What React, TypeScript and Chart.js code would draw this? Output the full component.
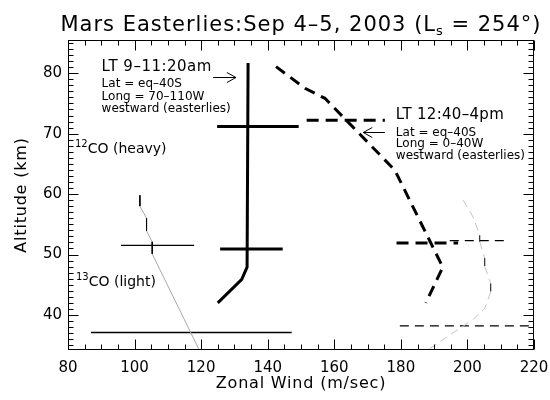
import React, { useEffect, useRef } from "react";
import { Chart, registerables } from "chart.js";
Chart.register(...registerables);

const FONT = "'DejaVu Sans', sans-serif";

// Axes
const xTicks = [80, 100, 120, 140, 160, 180, 200, 220];
const yTicks = [40, 50, 60, 70, 80];
const xMin = 80;
const xMax = 220;
const yMin = 34.2;
const yMax = 85.5;

// 12CO (heavy), LT 9-11:20am — thick solid profile
const heavyAmWind = [125, 132.2, 133.8, 134.1];
const heavyAmAlt = [42.0, 45.9, 47.9, 81.7];
const heavyAmBarAlt = [71.2, 50.9];
const heavyAmBarLo = [124.8, 125.7];
const heavyAmBarHi = [149.3, 144.5];

// 13CO (light), LT 9-11:20am — thin profile
const lightAmWind = [101.6, 101.6, 103.6, 103.6, 105.3, 105.3, 120.5];
const lightAmAlt = [59.8, 58.0, 56.0, 53.9, 52.1, 50.1, 33.0];
const lightAmBarAlt = [51.5, 37.1];
const lightAmBarLo = [95.9, 86.9];
const lightAmBarHi = [117.9, 147.2];

// 12CO (heavy), LT 12:40-4pm — thick dashed profile
const heavyPmWind = [142.5, 151.2, 157.2, 178.2, 192.6, 187.5];
const heavyPmAlt = [81.1, 77.5, 75.85, 63.95, 47.9, 42.0];
const heavyPmBarAlt = [72.2, 51.9];
const heavyPmBarLo = [151.7, 178.7];
const heavyPmBarHi = [175.2, 197.2];

// 13CO (light), LT 12:40-4pm — thin grey dashed profile
const lightPmWind = [198.7, 201.7, 203.7, 203.7, 205.2, 205.2, 207.0, 207.0, 205.2, 201.6, 193.8, 188.1, 185.7];
const lightPmAlt = [59.0, 56.2, 53.2, 52.1, 49.4, 48.0, 45.2, 43.8, 41.1, 39.2, 36.35, 34.2, 33.5];
const lightPmBarAlt = [52.3, 38.2];
const lightPmBarLo = [194.7, 179.7];
const lightPmBarHi = [212.2, 220];

// Annotations (data units)
const noteTexts = ["LT 9–11:20am", "Lat = eq–40S", "Long = 70–110W", "westward (easterlies)", "LT 12:40–4pm", "Lat = eq–40S", "Long = 0–40W", "westward (easterlies)"];
const noteX = [90.1, 90.1, 90.1, 90.1, 178.5, 178.5, 178.5, 178.5];
const noteY = [80.3, 77.67, 75.6, 73.6, 72.4, 69.65, 67.75, 65.8];
const noteSize = [15, 12, 12, 12, 15, 12, 12, 12];
const noteSpacing = [0.5, 0, 0, 0, 0.3, 0, 0, 0];

const isoLabels = ["12", "13"];
const isoNames = ["CO (heavy)", "CO (light)"];
const isoX = [82.1, 82.4];
const isoY = [66.8, 44.8];

const arrowTailX = [123.6, 175.2];
const arrowTipX = [130.45, 168.7];
const arrowY = [79.3, 70.3];

const pts = (xs: number[], ys: number[]) => xs.map((x, i) => ({ x, y: ys[i] }));

function bars(alt: number[], lo: number[], hi: number[], style: any) {
  return alt.map((a, i) => ({
    data: [{ x: lo[i], y: a }, { x: hi[i], y: a }],
    ...style,
  }));
}

const vertBlack = (grey: string) => (ctx: any) =>
  Math.abs(ctx.p0.parsed.x - ctx.p1.parsed.x) < 1e-9 ? "#000" : grey;

const framePlugin = {
  id: "idlFrame",
  afterDraw(chart: any) {
    const { ctx, chartArea: a, scales } = chart;
    const xs = scales.x;
    const ys = scales.y;
    ctx.save();
    ctx.strokeStyle = "#000";
    ctx.lineWidth = 1;
    const L = Math.round(a.left) + 0.5;
    const R = Math.round(a.right) - 0.5;
    const T = Math.round(a.top) + 0.5;
    const B = Math.round(a.bottom) - 0.5;
    ctx.strokeRect(L, T, R - L, B - T);
    const line = (x1: number, y1: number, x2: number, y2: number) => {
      ctx.beginPath();
      ctx.moveTo(x1, y1);
      ctx.lineTo(x2, y2);
      ctx.stroke();
    };
    for (let v = xMin; v <= xMax + 1e-6; v += 5) {
      const px = Math.round(xs.getPixelForValue(v)) + 0.5;
      const len = xTicks.includes(v) ? 10 : 5;
      line(px, B, px, B - len);
      line(px, T, px, T + len);
    }
    for (let v = Math.ceil(yMin); v <= yMax; v += 1) {
      const py = Math.round(ys.getPixelForValue(v)) + 0.5;
      const len = yTicks.includes(v) ? 10 : 5;
      line(L, py, L + len, py);
      line(R, py, R - len, py);
    }

    ctx.fillStyle = "#000";
    ctx.textBaseline = "alphabetic";
    ctx.textAlign = "left";
    // notes
    noteTexts.forEach((t, i) => {
      ctx.font = `${noteSize[i]}px ${FONT}`;
      ctx.letterSpacing = `${noteSpacing[i]}px`;
      ctx.fillText(t, xs.getPixelForValue(noteX[i]), ys.getPixelForValue(noteY[i]));
    });
    ctx.letterSpacing = "0px";
    // isotopes
    isoLabels.forEach((t, i) => {
      const x0 = xs.getPixelForValue(isoX[i]);
      const y0 = ys.getPixelForValue(isoY[i]);
      ctx.font = `10px ${FONT}`;
      ctx.fillText(t, x0, y0 - 6);
      const w = ctx.measureText(t).width;
      ctx.font = `14px ${FONT}`;
      ctx.fillText(isoNames[i], x0 + w, y0);
    });
    // arrows
    ctx.lineWidth = 1;
    arrowTipX.forEach((tx, i) => {
      const x1 = xs.getPixelForValue(arrowTailX[i]);
      const x2 = xs.getPixelForValue(tx);
      const y = Math.round(ys.getPixelForValue(arrowY[i])) + 0.5;
      const d = Math.sign(x2 - x1);
      line(x1, y, x2, y);
      line(x2, y, x2 - d * 9, y - 5);
      line(x2, y, x2 - d * 9, y + 5);
    });

    // title
    const cx = (a.left + a.right) / 2;
    const t1 = "Mars Easterlies:Sep 4–5, 2003 (L";
    const t2 = "s";
    const t3 = " = 254°)";
    ctx.letterSpacing = "1px";
    ctx.font = `21px ${FONT}`;
    const w1 = ctx.measureText(t1).width;
    const w3 = ctx.measureText(t3).width;
    ctx.font = `13px ${FONT}`;
    const w2 = ctx.measureText(t2).width;
    let x = cx - (w1 + w2 + w3) / 2;
    const ty = 31;
    ctx.font = `21px ${FONT}`;
    ctx.fillText(t1, x, ty);
    x += w1;
    ctx.font = `13px ${FONT}`;
    ctx.fillText(t2, x, ty + 4);
    x += w2;
    ctx.font = `21px ${FONT}`;
    ctx.fillText(t3, x, ty);

    // axis titles
    ctx.font = `16px ${FONT}`;
    ctx.letterSpacing = "0.8px";
    ctx.textAlign = "center";
    ctx.fillText("Zonal Wind (m/sec)", cx, 388);
    ctx.save();
    ctx.translate(26, (a.top + a.bottom) / 2);
    ctx.rotate(-Math.PI / 2);
    ctx.fillText("Altitude (km)", 0, 0);
    ctx.restore();
    ctx.letterSpacing = "0px";
    ctx.restore();
  },
};

export default function App() {
  const ref = useRef<HTMLCanvasElement | null>(null);
  useEffect(() => {
    document.body.style.margin = "0";
    const canvas = ref.current!;
    Chart.defaults.font.family = FONT;
    const base = { pointRadius: 0, fill: false, tension: 0, borderCapStyle: "butt" };
    const datasets: any[] = [
      { ...base, data: pts(heavyAmWind, heavyAmAlt), borderColor: "#000", borderWidth: 3 },
      ...bars(heavyAmBarAlt, heavyAmBarLo, heavyAmBarHi, { ...base, borderColor: "#000", borderWidth: 3 }),
      {
        ...base,
        data: pts(lightAmWind, lightAmAlt),
        borderColor: "#000",
        borderWidth: 1,
        segment: { borderColor: vertBlack("#a8a8a8") },
      },
      ...bars(lightAmBarAlt, lightAmBarLo, lightAmBarHi, { ...base, borderColor: "#000", borderWidth: 1.3 }),
      { ...base, data: pts(heavyPmWind, heavyPmAlt), borderColor: "#000", borderWidth: 3, borderDash: [11, 7] },
      ...bars(heavyPmBarAlt, heavyPmBarLo, heavyPmBarHi, { ...base, borderColor: "#000", borderWidth: 3, borderDash: [12, 7] }),
      {
        ...base,
        data: pts(lightPmWind, lightPmAlt),
        borderColor: "#000",
        borderWidth: 1,
        borderDash: [8, 5],
        segment: { borderColor: vertBlack("#c4c4c4") },
      },
      ...bars(lightPmBarAlt, lightPmBarLo, lightPmBarHi, { ...base, borderColor: "#000", borderWidth: 1.3, borderDash: [9, 6] }),
    ];
    const tickFont = { family: FONT, size: 15 };
    const chart = new Chart(canvas, {
      type: "line",
      data: { datasets },
      plugins: [framePlugin],
      options: {
        responsive: false,
        animation: false,
        events: [],
        layout: { padding: { top: 40, right: 16, left: 0, bottom: 0 } },
        plugins: { legend: { display: false }, tooltip: { enabled: false }, title: { display: false } },
        scales: {
          x: {
            type: "linear",
            min: xMin,
            max: xMax,
            afterFit: (s: any) => {
              s.height = 50;
              s.paddingLeft = 0;
              s.paddingRight = 0;
            },
            afterBuildTicks: (s: any) => {
              s.ticks = xTicks.map((v) => ({ value: v }));
            },
            grid: { display: false, drawTicks: false },
            border: { display: false },
            ticks: { font: tickFont, color: "#000", padding: 9, maxRotation: 0, autoSkip: false, callback: (v: any) => String(v) },
          },
          y: {
            type: "linear",
            min: yMin,
            max: yMax,
            afterFit: (s: any) => {
              s.width = 68;
              s.paddingTop = 0;
              s.paddingBottom = 0;
            },
            afterBuildTicks: (s: any) => {
              s.ticks = yTicks.map((v) => ({ value: v }));
            },
            grid: { display: false, drawTicks: false },
            border: { display: false },
            ticks: { font: tickFont, color: "#000", padding: 6, autoSkip: false, callback: (v: any) => String(v) },
          },
        },
      } as any,
    });
    return () => chart.destroy();
  }, []);
  return (
    <div style={{ width: 550, height: 400, background: "#fff" }}>
      <canvas ref={ref} width={550} height={400} style={{ display: "block" }} />
    </div>
  );
}
